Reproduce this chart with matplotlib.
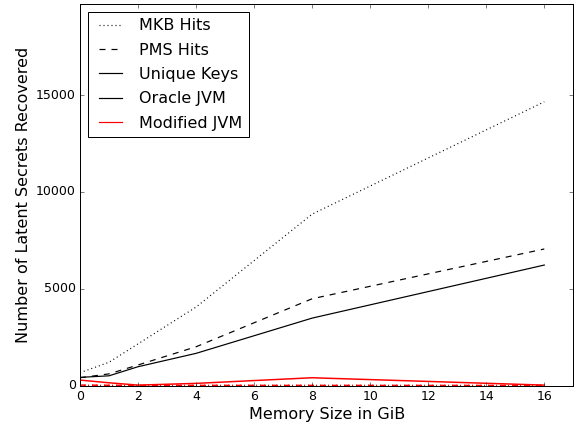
import matplotlib
matplotlib.use('Agg')
import matplotlib.pyplot as plt
import numpy as np

# memory sizes (GiB)
mem = [0, 1, 2, 4, 8, 16]

# Oracle JVM
oracle_mkb = [660, 1200, 2150, 4050, 8850, 14650]
oracle_pms = [400, 600, 1060, 2000, 4480, 7050]
oracle_keys = [420, 500, 970, 1660, 3480, 6220]

# Modified JVM
mod_mkb = [10, 5, 0, 5, 5, 0]
mod_pms = [20, 10, 0, 5, 5, 0]
mod_keys = [280, 140, 20, 110, 400, 20]

plt.style.use('classic')
plt.rcParams['font.size'] = 16
plt.rcParams['xtick.labelsize'] = 12.5
plt.rcParams['ytick.labelsize'] = 12.5

fig = plt.figure(figsize=(581 / 72, 426 / 72), dpi=72, facecolor='white')
ax = fig.add_axes([80 / 581, 1 - 385.5 / 426, 493.3 / 581, 381.5 / 426])

ax.plot(mem, oracle_mkb, color='black', linestyle=':', lw=1.2)
ax.plot(mem, oracle_pms, color='black', linestyle='--', lw=1.2)
ax.plot(mem, oracle_keys, color='black', linestyle='-', lw=1.2)
ax.plot(mem, mod_mkb, color='red', linestyle=':', lw=1.5)
ax.plot(mem, mod_pms, color='red', linestyle='--', lw=1.5)
ax.plot(mem, mod_keys, color='red', linestyle='-', lw=1.5)

# legend proxies
h1, = ax.plot([], [], color='black', linestyle=':', lw=1.2, label='MKB Hits')
h2, = ax.plot([], [], color='black', linestyle='--', lw=1.2, label='PMS Hits')
h3, = ax.plot([], [], color='black', linestyle='-', lw=1.2, label='Unique Keys')
h4, = ax.plot([], [], color='black', linestyle='-', lw=1.2, label='Oracle JVM')
h5, = ax.plot([], [], color='red', linestyle='-', lw=1.2, label='Modified JVM')
ax.legend(handles=[h1, h2, h3, h4, h5], loc='upper left', fontsize=16,
          labelspacing=0.58)

ax.set_xlim(0, 17)
ax.set_ylim(0, 19700)
ax.set_xticks(range(0, 17, 2))
ax.set_yticks([0, 5000, 10000, 15000])
ax.set_xlabel('Memory Size in GiB')
ax.set_ylabel('Number of Latent Secrets Recovered')

fig.savefig('out.png', dpi=72, facecolor='white')
